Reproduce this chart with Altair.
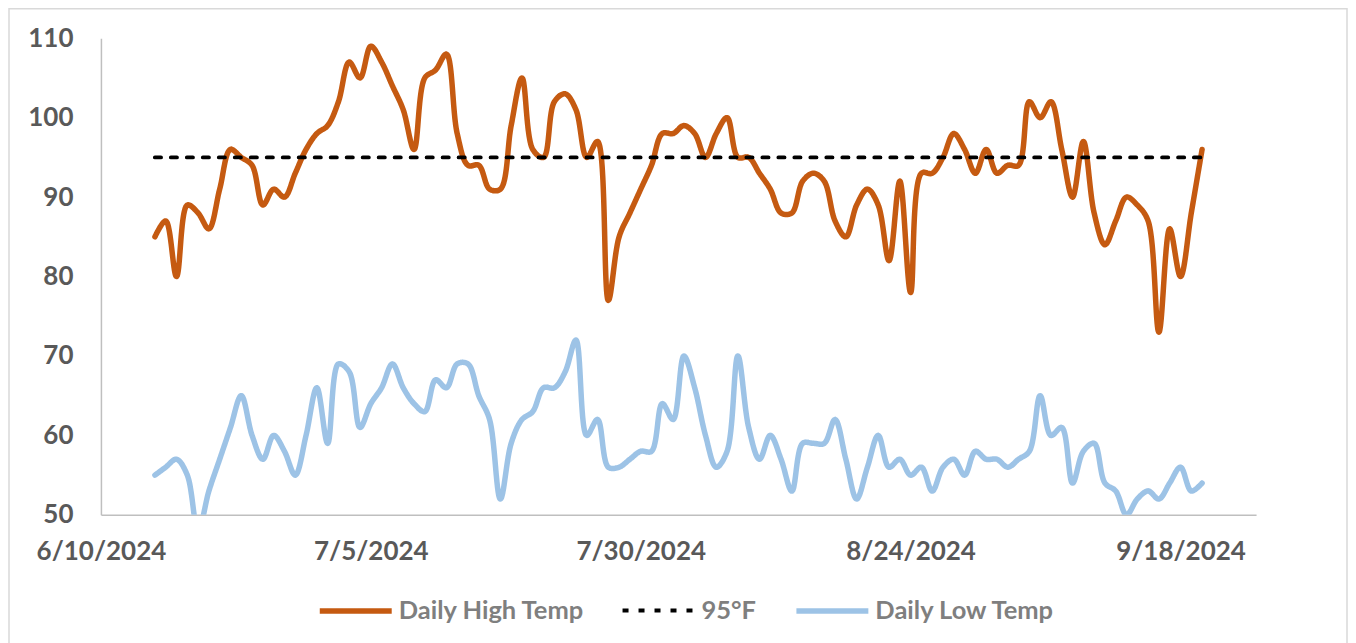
import altair as alt
import pandas as pd

# ---- data ----
start_date = "2024-06-15"
n_days = 98
dates = pd.date_range(start_date, periods=n_days, freq="D").strftime("%Y-%m-%d").tolist()

high = [85, 87, 80, 89, 88, 86, 91, 96, 95, 94,
        89, 91, 90, 93, 96, 98, 99, 102, 107, 105,
        109, 107, 104, 101, 96, 105, 106, 108, 98, 94,
        94, 91, 91, 99, 105, 96, 95, 102, 103, 101,
        95, 97, 77, 85, 88, 91, 94, 98, 98, 99,
        98, 95, 98, 100, 95, 95, 93, 91, 88, 88,
        92, 93, 92, 87, 85, 89, 91, 89, 82, 92,
        78, 93, 93, 95, 98, 96, 93, 96, 93, 94,
        94, 102, 100, 102, 96, 90, 97, 88, 84, 87,
        90, 89, 87, 73, 86, 80, 88, 96]

low = [55, 56, 57, 55, 48, 53, 57, 61, 65, 60,
       57, 60, 58, 55, 60, 66, 59, 69, 68, 61,
       64, 66, 69, 66, 64, 63, 67, 66, 69, 69,
       65, 62, 52, 59, 62, 63, 66, 66, 68, 72,
       60, 62, 56, 56, 57, 58, 58, 64, 62, 70,
       66, 60, 56, 58, 70, 61, 57, 60, 57, 53,
       59, 59, 59, 62, 57, 52, 56, 60, 56, 57,
       55, 56, 53, 56, 57, 55, 58, 57, 57, 56,
       57, 58, 65, 60, 61, 54, 58, 59, 54, 53,
       50, 52, 53, 52, 54, 56, 53, 54]

threshold = 95

series_names = ["Daily High Temp", "95°F", "Daily Low Temp"]
series_colors = ["#C55A11", "#000000", "#9DC3E6"]
series_dash = [[1, 0], [6, 10], [1, 0]]
series_width = [5.5, 4, 5.5]

y_ticks = [50, 60, 70, 80, 90, 100, 110]
x_tick_dates = [(2024, 6, 10), (2024, 7, 5), (2024, 7, 30), (2024, 8, 24), (2024, 9, 18)]
x_domain = [(2024, 6, 10), (2024, 9, 25)]

rows = []
for name, vals in zip(series_names, [high, [threshold] * n_days, low]):
    for d, v in zip(dates, vals):
        rows.append({"date": d, "series": name, "temp": v})
df = pd.DataFrame(rows)

def dt(t):
    return alt.DateTime(year=t[0], month=t[1], date=t[2], utc=True)

FONT = "Lato"
W, H = 1156, 477

legend = alt.Legend(
    title=None, orient="none", legendX=216, legendY=534, direction="horizontal",
    columns=3, symbolType="stroke", symbolSize=5184,
    labelFont=FONT, labelFontSize=25.5, labelFontWeight="bold", labelColor="#7f7f7f",
    labelOffset=4, columnPadding=29, labelLimit=400,
)

lines = alt.Chart(df).mark_line(
    clip=True, interpolate="catmull-rom", strokeCap="round", strokeJoin="round"
).encode(
    x=alt.X("date:T",
            scale=alt.Scale(type="utc", domain=[dt(x_domain[0]), dt(x_domain[1])]),
            axis=alt.Axis(values=[dt(t) for t in x_tick_dates], format="%-m/%-d/%Y",
                          title=None, ticks=False, grid=False,
                          labelFont=FONT, labelFontSize=26, labelFontWeight="bold",
                          labelColor="#595959", labelPadding=24,
                          labelOverlap=False, labelFlush=False,
                          domainColor="#bfbfbf", domainWidth=1.5)),
    y=alt.Y("temp:Q",
            scale=alt.Scale(domain=[50, 110], nice=False, zero=False),
            axis=alt.Axis(values=y_ticks, title=None, ticks=False, grid=False,
                          labelFont=FONT, labelFontSize=26, labelFontWeight="bold",
                          labelColor="#595959", labelPadding=28,
                          domainColor="#bfbfbf", domainWidth=1.5)),
    color=alt.Color("series:N", scale=alt.Scale(domain=series_names, range=series_colors),
                    legend=legend),
    strokeDash=alt.StrokeDash("series:N",
                              scale=alt.Scale(type="ordinal", domain=series_names, range=series_dash),
                              legend=legend),
    strokeWidth=alt.StrokeWidth("series:N",
                                scale=alt.Scale(type="ordinal", domain=series_names, range=series_width),
                                legend=legend),
)

frame = alt.Chart(pd.DataFrame({"a": [0]})).mark_rect(
    fillOpacity=0, stroke="#d9d9d9", strokeWidth=1.5, clip=False
).encode(
    x=alt.value(-92), x2=alt.value(1247), y=alt.value(-29.5), y2=alt.value(640)
)

chart = alt.layer(frame, lines).properties(
    width=W, height=H,
    autosize=alt.AutoSizeParams(type="none"),
    padding={"left": 93, "top": 30, "right": 92, "bottom": 130},
).configure_view(stroke=None)

chart.save("out.html", embed_options={"renderer": "svg", "actions": False})
